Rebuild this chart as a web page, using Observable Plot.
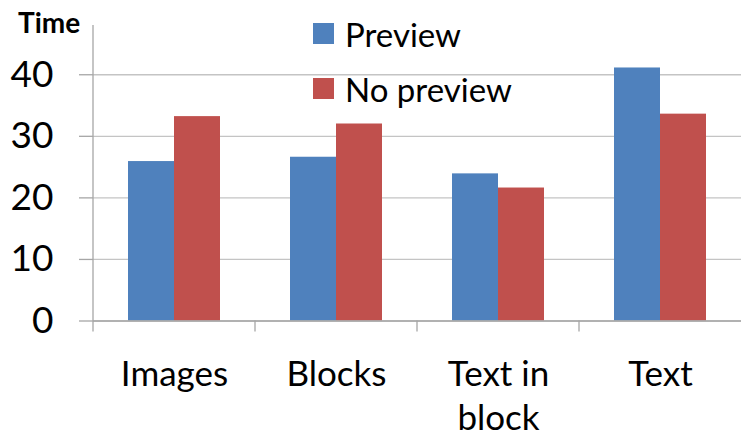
<!DOCTYPE html>
<html>
<head>
<meta charset="utf-8">
<script src="https://cdn.jsdelivr.net/npm/d3@7"></script>
<script src="https://cdn.jsdelivr.net/npm/@observablehq/plot@0.6"></script>
<style>
  html, body { margin: 0; padding: 0; background: white; }
  #wrap { position: relative; width: 747px; height: 430px; overflow: hidden; }
  #ytitle { position: absolute; left: 18px; top: 8px; font: bold 28px Lato, sans-serif; line-height: 28px; color: black; }
  #legend { position: absolute; left: 313px; top: 6px; }
  #legend * { font-family: Lato, sans-serif; font-size: 33px; color: black; }
  #legend > div > div { height: 55px; display: flex; align-items: center; padding: 0; margin: 0; }
  #legend svg { margin-right: 11px !important; }
</style>
</head>
<body>
<div id="wrap">
  <div id="chart"></div>
  <div id="ytitle">Time</div>
  <div id="legend"></div>
</div>
<script>
const categories = ["Images", "Blocks", "Text in block", "Text"];
const categoryLabels = ["Images", "Blocks", "Text in\nblock", "Text"];
const series = ["Preview", "No preview"];
const previewValues = [25.9, 26.6, 23.9, 41.1];
const noPreviewValues = [33.2, 32.0, 21.6, 33.6];
const yTicks = [0, 10, 20, 30, 40];
const colors = ["#4f81bd", "#c0504d"];

const data = [];
categories.forEach((c, i) => {
  data.push({category: c, series: series[0], value: previewValues[i]});
  data.push({category: c, series: series[1], value: noPreviewValues[i]});
});
const labelOf = new Map(categories.map((c, i) => [c, categoryLabels[i]]));

const yMax = 48;
const plot = Plot.plot({
  width: 747,
  height: 430,
  marginLeft: 92,
  marginRight: 6,
  marginTop: 25,
  marginBottom: 109.5,
  style: {fontFamily: "Lato, sans-serif", color: "black", background: "white", overflow: "visible"},
  fx: {domain: categories, padding: 0, label: null},
  x: {domain: series, paddingInner: 0, paddingOuter: 0.742, axis: null},
  y: {domain: [0, yMax], label: null},
  color: {domain: series, range: colors},
  marks: [
    Plot.gridY(yTicks, {stroke: "#c4c4c4", strokeOpacity: 1, strokeWidth: 1.3}),
    Plot.barY(data, {fx: "category", x: "series", y: "value", fill: "series"}),
    Plot.ruleY([0], {stroke: "#a6a6a6", strokeWidth: 1.3}),
    Plot.axisY(yTicks, {tickSize: 14, tickPadding: 26, fontSize: 37, stroke: "#a6a6a6", fill: "black", label: null, strokeWidth: 1.3}),
    Plot.axisFx({anchor: "bottom", tickSize: 0, tickPadding: 34, fontSize: 35, lineHeight: 1.26, fill: "black", label: null, tickFormat: c => labelOf.get(c)})
  ]
});

// axis line and category boundary ticks, placed with Plot's own scales
const fx = plot.scale("fx");
const y = plot.scale("y");
const svg = d3.select(plot);
const g = svg.append("g").attr("stroke", "#a6a6a6").attr("stroke-width", 1.3);
const y0 = y.apply(0);
const tickLen = 11;
categories.forEach((c, i) => {
  const xx = fx.apply(c);
  g.append("line").attr("x1", xx).attr("x2", xx)
    .attr("y1", i === 0 ? y.apply(yMax) : y0).attr("y2", y0 + tickLen);
});

document.getElementById("chart").appendChild(plot);

const legend = Plot.legend({
  color: {domain: series, range: colors},
  legend: "swatches",
  columns: 1,
  swatchSize: 21,
  style: {fontFamily: "Lato, sans-serif", fontSize: "33px"}
});
document.getElementById("legend").appendChild(legend);
</script>
</body>
</html>
